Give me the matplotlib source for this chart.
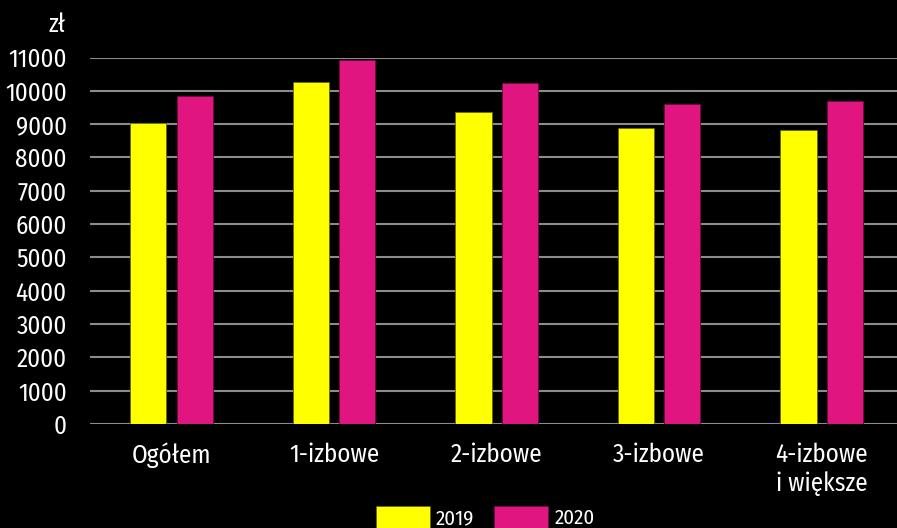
import matplotlib.pyplot as plt
import numpy as np

plt.rcParams['font.family'] = ['Fira Sans Condensed', 'DejaVu Sans']

categories = ['Ogółem', '1-izbowe', '2-izbowe', '3-izbowe', '4-izbowe\ni większe']
v2019 = [9050, 10270, 9370, 8900, 8820]
v2020 = [9860, 10930, 10250, 9620, 9700]
yticks = [0, 1000, 2000, 3000, 4000, 5000, 6000, 7000, 8000, 9000, 10000, 11000]

fig = plt.figure(figsize=(8.97, 5.28), dpi=100, facecolor='black')
ax = fig.add_axes([0.1006, 0.197, 0.906, 0.694], facecolor='black')

x = np.arange(len(categories))
w = 0.223
ax.bar(x - 0.031 - w / 2, v2019, w, color='#ffff00', edgecolor='#6b6b00', linewidth=0.6,
       label='2019', zorder=3)
ax.bar(x + 0.031 + w / 2, v2020, w, color='#e0157f', edgecolor='#700a40', linewidth=0.6,
       label='2020', zorder=3)

ax.set_xlim(-0.5, len(categories) - 0.5)
ax.set_ylim(0, 11000)
ax.set_yticks(yticks)
ax.set_yticklabels([str(t) for t in yticks])
ax.set_xticks(x)
ax.set_xticklabels(categories, linespacing=1.2)
ax.yaxis.grid(True, color='#8c8c8c', linewidth=1.5, zorder=0)
ax.tick_params(colors='white', labelsize=18, length=0)
ax.tick_params(axis='x', pad=13)
ax.tick_params(axis='y', pad=17)
for s in ax.spines.values():
    s.set_visible(False)

fig.text(0.0725, 0.953, 'zł', color='white', fontsize=18, ha='right', va='center')

leg = fig.legend(loc='center', bbox_to_anchor=(0.541, 0.02), ncol=2, frameon=False,
                 fontsize=15, handlelength=2.6, handleheight=1.3, handletextpad=0.3,
                 columnspacing=0.95, labelcolor='white')

fig.savefig('out.png', dpi=100, facecolor='black')
